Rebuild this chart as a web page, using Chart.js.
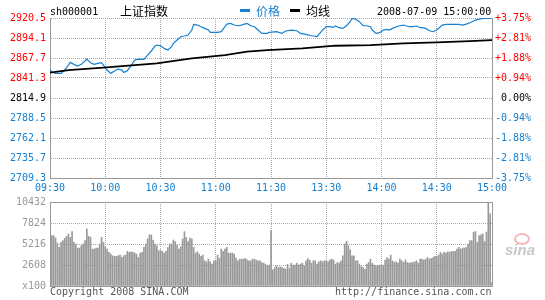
<!DOCTYPE html>
<html>
<head>
<meta charset="utf-8">
<script src="https://cdn.jsdelivr.net/npm/chart.js@4.4.0/dist/chart.umd.min.js"></script>
<style>
  body { margin: 0; background: #fff; }
  #wrap { position: relative; width: 545px; height: 300px; overflow: hidden; font-family: 'DejaVu Sans Mono', monospace; font-size: 10px; }
  canvas { position: absolute; left: 0; }
  .t { position: absolute; white-space: nowrap; line-height: 12px; }
  .cjk { font-family: 'Noto Sans CJK SC', sans-serif; font-size: 12px; line-height: 14px; }
  .dash { position: absolute; height: 3px; width: 10px; }
</style>
</head>
<body>
<div id="wrap">
  <canvas id="priceChart" width="545" height="200" style="top:0"></canvas>
  <canvas id="volChart" width="545" height="106" style="top:190px"></canvas>

  <div class="t" style="left:50px;top:6px;color:#000">sh000001</div>
  <div class="t cjk" style="left:120px;top:4px;color:#000">上证指数</div>
  <div class="dash" style="left:240px;top:9px;background:#1680d0"></div>
  <div class="t cjk" style="left:256px;top:4px;color:#1680d0">价格</div>
  <div class="dash" style="left:290px;top:9px;background:#000"></div>
  <div class="t cjk" style="left:306px;top:4px;color:#000">均线</div>
  <div class="t" style="left:377px;top:6px;color:#000">2008-07-09 15:00:00</div>

  <div class="t" style="left:50px;top:286px;color:#555">Copyright 2008 SINA.COM</div>
  <div class="t" style="left:335px;top:286px;color:#555">http://finance.sina.com.cn</div>

  <div style="position:absolute;left:514px;top:233px;width:12px;height:8px;border:2px solid #f5b8b8;border-radius:50%"></div>
  <div class="t" style="left:505px;top:243px;font-family:'Liberation Sans';font-weight:bold;font-style:italic;font-size:15px;line-height:14px;color:#c8c8c8">sina</div>
</div>

<script>
// previous close and axis ticks
const prevClose = 2814.9;
const priceTicks = [2709.3, 2735.7, 2762.1, 2788.5, 2814.9, 2841.3, 2867.7, 2894.1, 2920.5];
const volTicks = [0, 2608, 5216, 7824, 10432];
const tickMinutes = [0, 30, 60, 90, 120, 150, 180, 210, 240];
const timeLabels = ['09:30', '10:00', '10:30', '11:00', '11:30', '13:30', '14:00', '14:30', '15:00'];

// price trace (minute from open, index value)
const priceTime = [0, 1, 3, 6, 8, 10, 11, 13, 15, 17, 19, 20, 22, 24, 26, 28, 29, 31, 33, 35,
  37, 39, 40, 42, 44, 46, 48, 51, 53, 55, 57, 58, 60, 62, 64, 66, 67, 69, 71, 73,
  75, 77, 78, 80, 82, 84, 86, 87, 89, 91, 93, 95, 96, 98, 100, 102, 104, 105, 107, 109,
  111, 113, 115, 118, 119, 123, 126, 128, 131, 134, 136, 139, 142, 145, 146, 148, 150, 152, 154, 155,
  157, 159, 161, 163, 164, 166, 168, 170, 172, 174, 175, 177, 179, 181, 183, 184, 186, 188, 190, 192,
  193, 195, 197, 199, 201, 202, 204, 206, 208, 210, 212, 213, 215, 219, 222, 224, 226, 228, 230, 231,
  235, 238, 240];
const priceValue = [2851.8, 2849.6, 2847.4, 2847.4, 2851.8, 2858.4, 2861.9, 2859.3, 2857.1, 2859.3, 2863.7, 2866.3, 2861.5, 2859.3, 2860.6, 2861.5, 2858.4, 2851.8, 2847.4, 2850.5,
  2853.1, 2851.8, 2848.7, 2850.9, 2857.5, 2865.0, 2866.3, 2865.9, 2871.6, 2876.9, 2883.5, 2884.8, 2883.9, 2880.4, 2878.2, 2882.6, 2887.0, 2891.4, 2895.8, 2896.7,
  2898.0, 2904.6, 2912.1, 2911.2, 2909.0, 2906.8, 2904.6, 2901.5, 2901.5, 2901.5, 2902.4, 2909.0, 2912.5, 2913.4, 2911.2, 2910.3, 2911.2, 2912.1, 2913.4, 2910.3,
  2909.0, 2904.6, 2900.2, 2900.2, 2901.5, 2902.4, 2900.2, 2903.3, 2904.6, 2903.7, 2900.2, 2898.9, 2897.1, 2895.8, 2898.9, 2904.6, 2909.0, 2909.0, 2908.1, 2909.9,
  2907.7, 2906.8, 2910.3, 2915.6, 2920.0, 2919.1, 2915.6, 2910.3, 2910.3, 2909.0, 2904.6, 2900.2, 2901.1, 2904.6, 2905.5, 2904.6, 2906.8, 2909.0, 2910.3, 2911.2,
  2910.3, 2909.0, 2909.0, 2909.9, 2907.7, 2907.7, 2906.8, 2903.7, 2902.4, 2904.6, 2909.0, 2911.2, 2912.1, 2912.1, 2912.1, 2911.2, 2912.5, 2914.3, 2916.5, 2917.8,
  2920.0, 2920.0, 2920.5];

// average price line
const avgTime = [0, 10, 29, 58, 77, 95, 107, 118, 137, 155, 174, 192, 210, 228, 240];
const avgValue = [2848.3, 2851.8, 2854.9, 2860.6, 2867.2, 2871.6, 2876.0, 2878.2, 2880.4, 2883.9, 2884.8, 2887.0, 2888.3, 2890.1, 2891.4];

// volume per minute (x100), minute 0..240
const volume = [8882, 6255, 6255, 5963, 5338, 4796, 5421, 5630, 5921, 6172, 6464, 6047, 6755, 5421, 5213, 4712, 4712, 5004, 5213, 5630,
  7089, 6172, 6047, 4587, 4587, 4712, 4712, 5213, 6047, 5421, 4879, 4587, 4170, 3962, 3753, 3670, 3670, 3753, 3836, 3545,
  3753, 3836, 4295, 4170, 4253, 4170, 4087, 3962, 3545, 4087, 4170, 4796, 5213, 5838, 6338, 6338, 5713, 5213, 5004, 4379,
  4462, 4295, 4087, 4295, 4796, 5213, 5213, 5713, 5504, 5087, 4587, 4879, 5838, 6755, 6047, 5504, 5963, 5838, 4796, 4087,
  4253, 3962, 3670, 3836, 3128, 3002, 3336, 3002, 2711, 3128, 3128, 3836, 3419, 4587, 4295, 4587, 4796, 4087, 4087, 4087,
  3962, 3461, 3128, 3336, 3336, 3336, 3419, 3253, 3128, 3128, 3336, 3336, 3211, 3128, 3128, 2919, 2836, 2711, 2502, 2585,
  6881, 2002, 2294, 2502, 2294, 2377, 2294, 2168, 2085, 2711, 2210, 2836, 2585, 2585, 2836, 2585, 2711, 2836, 2502, 3128,
  3419, 3211, 2836, 3128, 3128, 2711, 3002, 3128, 3002, 3128, 3128, 3044, 3253, 3336, 3211, 2711, 2919, 2836, 3128, 3753,
  5213, 5546, 5004, 4504, 3753, 3753, 3128, 3128, 2711, 2419, 2294, 2085, 2711, 2919, 3336, 2794, 2585, 2502, 2585, 2585,
  2585, 2585, 3211, 3545, 3336, 3836, 3128, 2919, 3002, 2836, 3336, 3128, 2919, 3253, 2919, 2836, 2919, 2919, 3002, 3128,
  2836, 3336, 3336, 3211, 3336, 3545, 3336, 3419, 3545, 3670, 3670, 3836, 4170, 3962, 4170, 4087, 4253, 4170, 4295, 4295,
  4295, 4587, 4796, 4587, 4712, 4712, 4796, 5213, 5630, 5630, 6672, 6760, 5420, 6260, 6340, 6470, 5510, 6700, 10432, 8975,
  420];

const blue = '#1680d0';
const frame = '#999999';
const gridColor = '#a8a8a8';
const mono = { family: "'DejaVu Sans Mono', monospace", size: 10 };

function pct(v) {
    const p = (v - prevClose) / prevClose * 100;
    if (Math.abs(p) < 0.005) return '0.00%';
    return (p > 0 ? '+' : '') + p.toFixed(2) + '%';
}
function priceColor(ctx) {
    const v = ctx.tick ? ctx.tick.value : prevClose;
    if (Math.abs(v - prevClose) < 0.01) return '#000';
    return v > prevClose ? '#ff0000' : blue;
}
const timeTicks = scale => { scale.ticks = tickMinutes.map(v => ({ value: v })); };

// Chart: price and average
new Chart(document.getElementById('priceChart'), {
    type: 'line',
    data: {
        datasets: [{
            label: '均线',
            data: avgTime.map((t, i) => ({ x: t, y: avgValue[i] })),
            borderColor: '#000',
            borderWidth: 1.8,
            pointRadius: 0,
            tension: 0
        }, {
            label: '价格',
            data: priceTime.map((t, i) => ({ x: t, y: priceValue[i] })),
            borderColor: blue,
            borderWidth: 1.2,
            pointRadius: 0,
            tension: 0
        }]
    },
    options: {
        responsive: false,
        animation: false,
        devicePixelRatio: 1,
        layout: { padding: { top: 18, right: 14, left: 0, bottom: 0 } },
        plugins: { legend: { display: false }, tooltip: { enabled: false } },
        scales: {
            x: {
                type: 'linear', min: 0, max: 240,
                afterBuildTicks: timeTicks,
                afterFit: s => { s.height = 22; },
                grid: { color: gridColor, drawTicks: false },
                border: { color: frame, dash: [1, 1] },
                ticks: {
                    color: blue, font: mono, padding: 4, maxRotation: 0, autoSkip: false,
                    callback: (v, i) => timeLabels[i]
                }
            },
            y: {
                position: 'left', min: priceTicks[0], max: priceTicks[priceTicks.length - 1],
                afterBuildTicks: s => { s.ticks = priceTicks.map(v => ({ value: v })); },
                afterFit: s => { s.width = 50; },
                grid: { color: gridColor, drawTicks: false },
                border: { color: frame, dash: [1, 1] },
                ticks: { color: priceColor, font: mono, padding: 4, callback: v => v.toFixed(1) }
            },
            y2: {
                position: 'right', min: priceTicks[0], max: priceTicks[priceTicks.length - 1],
                afterBuildTicks: s => { s.ticks = priceTicks.map(v => ({ value: v })); },
                afterFit: s => { s.width = 39; },
                grid: { display: false, drawTicks: false },
                border: { color: frame },
                ticks: { color: priceColor, font: mono, padding: 2, crossAlign: 'far', callback: v => pct(v) }
            }
        }
    }
});

// Chart: volume
new Chart(document.getElementById('volChart'), {
    type: 'bar',
    data: {
        datasets: [{
            label: '成交量',
            data: volume.map((v, i) => ({ x: i, y: v })),
            backgroundColor: '#999999',
            barThickness: 1
        }]
    },
    options: {
        responsive: false,
        animation: false,
        devicePixelRatio: 1,
        layout: { padding: { top: 12, right: 0, left: 0, bottom: 6 } },
        plugins: { legend: { display: false }, tooltip: { enabled: false } },
        scales: {
            x: {
                type: 'linear', min: 0, max: 240, offset: false,
                afterBuildTicks: timeTicks,
                afterFit: s => { s.height = 0; },
                grid: { color: gridColor, drawTicks: false, offset: false },
                border: { color: frame, dash: [1, 1] },
                ticks: { display: false }
            },
            xt: {
                type: 'linear', position: 'top', min: 0, max: 240,
                afterFit: s => { s.height = 0; },
                grid: { display: false, drawTicks: false },
                border: { color: frame },
                ticks: { display: false }
            },
            y: {
                position: 'left', min: 0, max: volTicks[volTicks.length - 1],
                afterBuildTicks: s => { s.ticks = volTicks.map(v => ({ value: v })); },
                afterFit: s => { s.width = 50; },
                grid: { color: gridColor, drawTicks: false },
                border: { color: frame, dash: [1, 1] },
                ticks: { color: '#999', font: mono, padding: 4, callback: v => v === 0 ? 'x100' : String(v) }
            },
            yr: {
                position: 'right', min: 0, max: volTicks[volTicks.length - 1],
                afterFit: s => { s.width = 53; },
                grid: { display: false, drawTicks: false },
                border: { color: frame },
                ticks: { display: false }
            }
        }
    }
});
</script>
</body>
</html>
